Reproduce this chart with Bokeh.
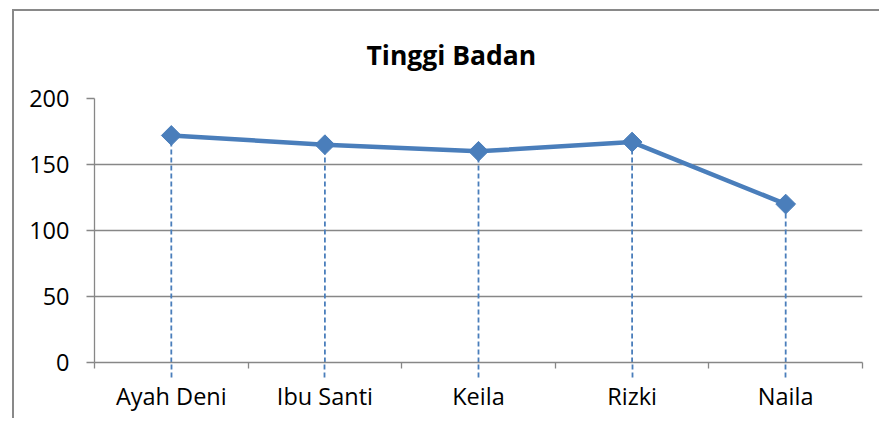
import numpy as np
from bokeh.plotting import figure
from bokeh.models import FixedTicker, Range1d, ColumnDataSource, Title
from bokeh.embed import file_html
from bokeh.resources import INLINE

names = ["Ayah Deni", "Ibu Santi", "Keila", "Rizki", "Naila"]
heights = [172, 165, 160, 167, 120]
y_ticks = [0, 50, 100, 150, 200]
title_text = "Tinggi Badan"

BLUE = "#4a7ebb"
GREY = "#878787"
FONT = "Open Sans"

xpos = np.arange(len(names)) + 0.5
src = ColumnDataSource(dict(x=xpos, y=heights, y0=np.zeros(len(names))))

p = figure(width=867, height=409, output_backend="svg", toolbar_location=None,
           x_range=Range1d(0, len(names)), y_range=Range1d(y_ticks[0], y_ticks[-1]),
           min_border_left=80, min_border_right=19, min_border_top=87, min_border_bottom=58,
           title=None)
p.styles = {"border-left": "2px solid #898989", "border-top": "2px solid #898989"}
p.margin = (9, 0, 0, 12)
p.outline_line_color = None
p.background_fill_color = "white"
p.border_fill_color = "white"

t = Title(text=title_text, align="left", offset=272, text_font=FONT,
          text_font_size="26.5px", text_font_style="bold", text_color="black",
          vertical_align="top", standoff=48)
p.add_layout(t, "above")

# y axis
ya = p.yaxis[0]
ya.ticker = FixedTicker(ticks=y_ticks)
ya.axis_line_color = GREY
ya.axis_line_width = 1.3
ya.major_tick_line_color = GREY
ya.major_tick_line_width = 1.3
ya.major_tick_out = 8
ya.major_tick_in = 0
ya.minor_tick_line_color = None
ya.major_label_text_font = FONT
ya.major_label_text_font_size = "23.5px"
ya.major_label_text_color = "black"
ya.major_label_standoff = 17

# x axis
xa = p.xaxis[0]
xa.ticker = FixedTicker(ticks=list(xpos), minor_ticks=list(range(len(names) + 1)))
xa.major_label_overrides = {float(x): n for x, n in zip(xpos, names)}
xa.axis_line_color = GREY
xa.axis_line_width = 1.3
xa.major_tick_line_color = BLUE
xa.major_tick_line_width = 1.8
xa.major_tick_line_dash = "5 3"
xa.major_tick_out = 15
xa.major_tick_in = 0
xa.minor_tick_line_color = GREY
xa.minor_tick_line_width = 1.3
xa.minor_tick_out = 6
xa.minor_tick_in = 0
xa.major_label_text_font = FONT
xa.major_label_text_font_size = "23.5px"
xa.major_label_text_color = "black"
xa.major_label_standoff = 2

p.xgrid.visible = False
p.ygrid.ticker = FixedTicker(ticks=y_ticks)
p.ygrid.grid_line_color = GREY
p.ygrid.grid_line_width = 1.3

p.segment(x0="x", y0="y0", x1="x", y1="y", source=src, line_color=BLUE,
          line_width=1.8, line_dash="5 3")
p.line("x", "y", source=src, line_color=BLUE, line_width=4.5)
p.scatter("x", "y", source=src, marker="square", angle=np.pi / 4, size=14,
          fill_color=BLUE, line_color=BLUE)

open("out.html", "w").write(file_html(p, INLINE))
